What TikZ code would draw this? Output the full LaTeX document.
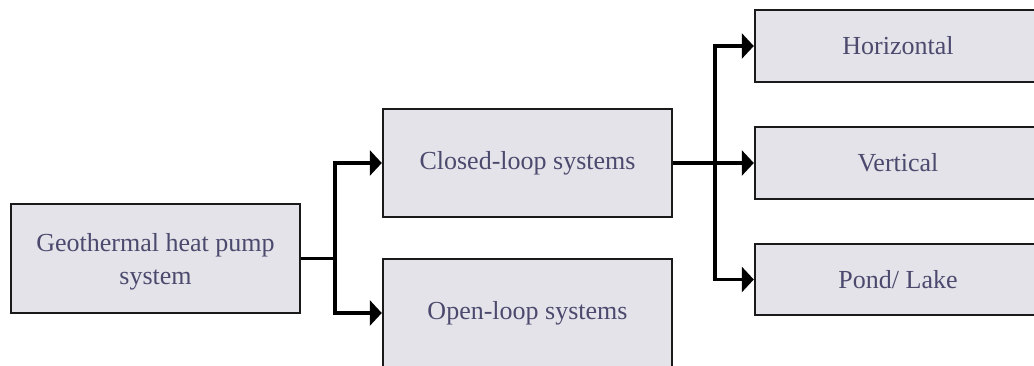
\documentclass[tikz,border=0pt]{standalone}
\usepackage{fontspec}
\setmainfont{Liberation Serif}
\usetikzlibrary{arrows.meta}
\definecolor{boxfill}{HTML}{E4E3E9}
\definecolor{boxtext}{HTML}{4B4A6E}
\definecolor{boxline}{HTML}{1A1A1A}
\tikzset{
  box/.style={draw=boxline, line width=2.4pt, fill=boxfill, text=boxtext,
    rectangle, inner sep=0pt, align=center,
    font=\fontsize{26}{33}\selectfont},
  link/.style={draw=black, line width=3.6pt},
  arrowlink/.style={link, -{Triangle[length=12pt, width=25pt]}}
}
\begin{document}
\begin{tikzpicture}[x=1pt, y=-1pt]
  \useasboundingbox (0,0) rectangle (1034,365);
  \clip (0,0) rectangle (1034,365);
  \fill[white] (0,0) rectangle (1034,365);

  % boxes
  \node[box, minimum width=289pt, minimum height=109pt] (geo) at (155.5,258.5)
    {\rule{0pt}{24pt}Geothermal heat pump\\system};
  \node[box, minimum width=289pt, minimum height=108pt] (closed) at (527.5,163)
    {Closed-loop systems};
  \node[box, minimum width=289pt, minimum height=108pt] (open) at (527.5,313)
    {Open-loop systems};
  \node[box, minimum width=286pt, minimum height=72pt] (horiz) at (898,46)
    {Horizontal};
  \node[box, minimum width=286pt, minimum height=72pt] (vert) at (898,163)
    {Vertical};
  \node[box, minimum width=286pt, minimum height=71pt] (pond) at (898,279.5)
    {Pond/ Lake};

  % first level connectors
  \coordinate (j1) at (335,258.5);
  \draw[link] (geo.east) -- (j1);
  \draw[arrowlink] (j1) |- (closed.west);
  \draw[arrowlink] (j1) |- (open.west);

  % second level connectors
  \coordinate (j2) at (715,163);
  \draw[arrowlink] (closed.east) -- (vert.west);
  \draw[arrowlink] (j2) |- (horiz.west);
  \draw[arrowlink] (j2) |- (pond.west);
\end{tikzpicture}
\end{document}
